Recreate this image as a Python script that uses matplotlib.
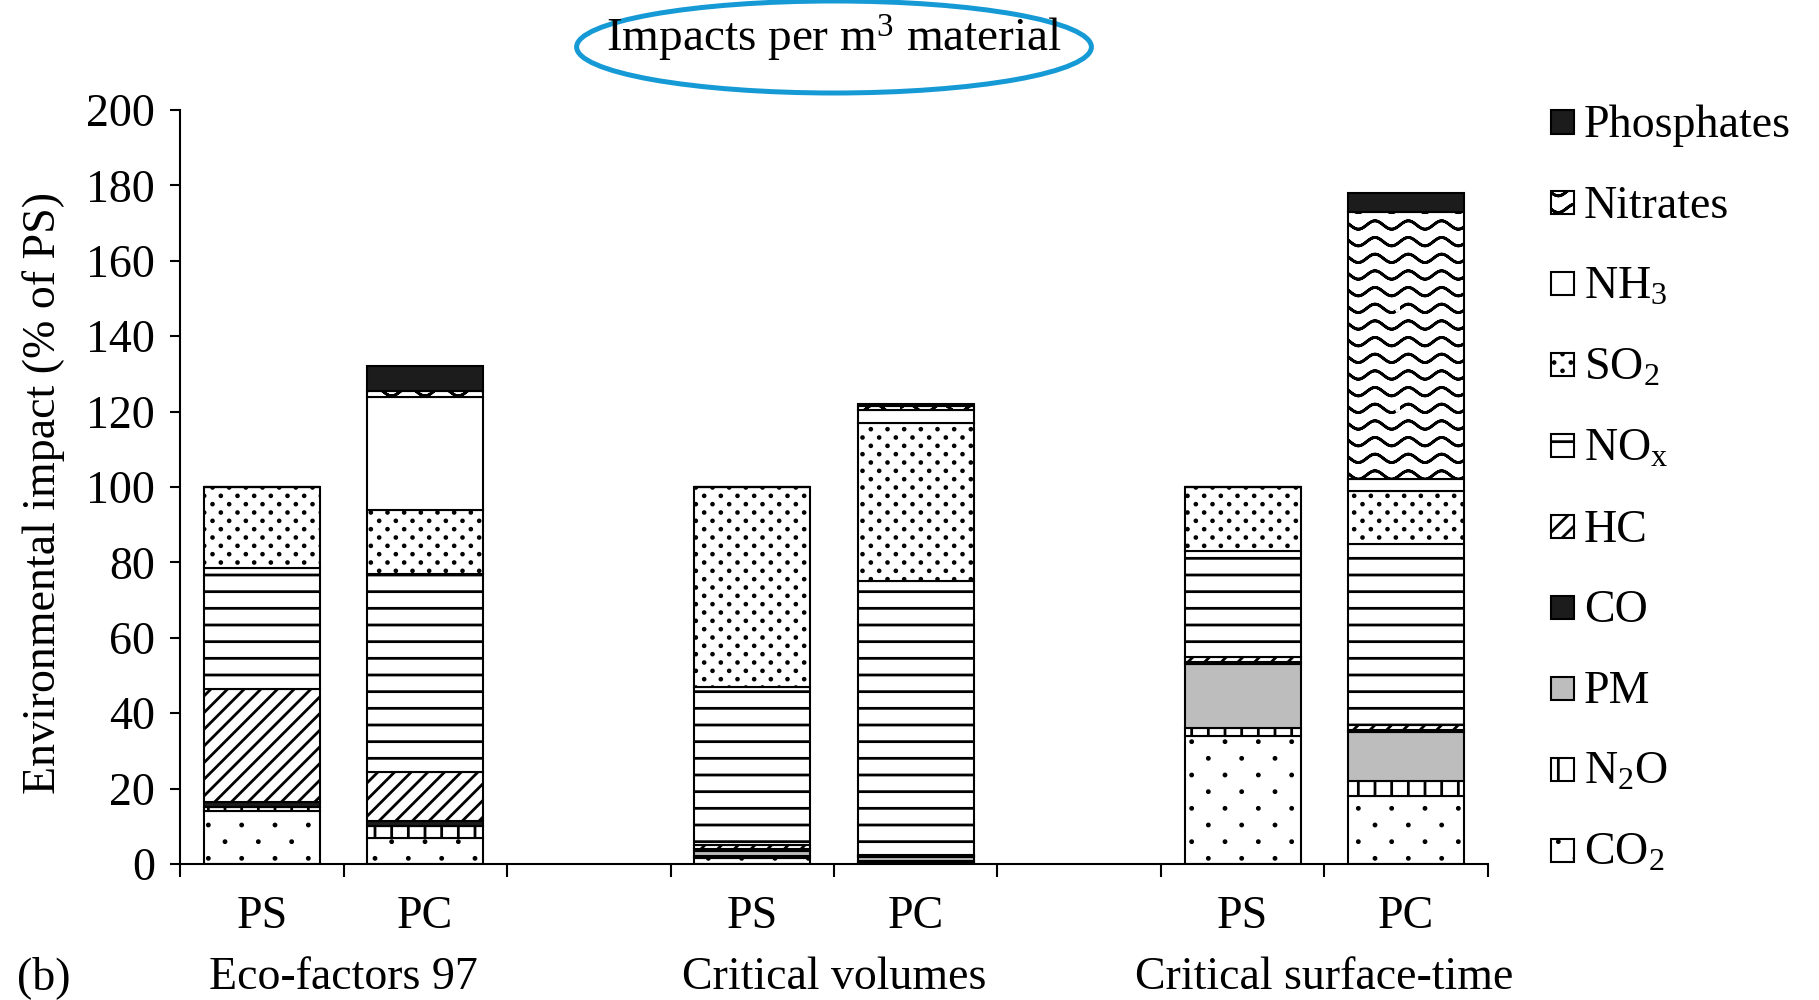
import numpy as np
import matplotlib
matplotlib.use("Agg")
import matplotlib.pyplot as plt
from matplotlib import hatch as mhatch
from matplotlib.path import Path
from matplotlib.patches import Ellipse, Rectangle
from matplotlib.transforms import blended_transform_factory

# PS / PC bars for three impact methods, % of PS
methods = ["Eco-factors 97", "Critical volumes", "Critical surface-time"]
materials = ["PS", "PC", "PS", "PC", "PS", "PC"]
bar_pos = [0, 1, 3, 4, 6, 7]

co2 = [14, 7, 1.5, 0.5, 34, 18]
n2o = [1, 3, 0.5, 0.3, 2, 4]
pm = [0, 0, 1.5, 1, 17, 13]
co = [1.5, 1.5, 0.5, 0.3, 0.5, 0.5]
hc = [30, 13, 1, 0.4, 1.5, 1.5]
nox = [32, 52.5, 42, 72.5, 28, 48]
so2 = [21.5, 17, 53, 42, 17, 14]
nh3 = [0, 30, 0, 3.5, 0, 3]
nitrates = [0, 1.5, 0, 1, 0, 71]
phosphates = [0, 6.5, 0, 0.5, 0, 5]

CIRCLE = Path.unit_circle()


class Dots(mhatch.HatchPatternBase):
    # staggered filled dots, ncol per row, nrow rows per hatch tile
    def __init__(self, hatch, density):
        self.centers = []
        if self.char in hatch:
            for r in range(self.nrow):
                shift = 0.5 if r % 2 else 0.0
                for c in range(self.ncol):
                    self.centers.append(((c + 0.25 + shift) / self.ncol,
                                         (r + 0.5) / self.nrow))
        self.num_vertices = len(self.centers) * len(CIRCLE.vertices)

    def set_vertices_and_codes(self, vertices, codes):
        n = len(CIRCLE.vertices)
        for i, (x, y) in enumerate(self.centers):
            vertices[i * n:(i + 1) * n] = CIRCLE.vertices * self.size + (x, y)
            codes[i * n:(i + 1) * n] = CIRCLE.codes


class SparseDots(Dots):
    char, ncol, nrow, size = "o", 3, 6, 0.01


class FineDots(Dots):
    char, ncol, nrow, size = "*", 6, 12, 0.009


class Waves(mhatch.HatchPatternBase):
    # wavy lines; each wave is traced forth and back so the fill pass adds nothing
    steps = 60

    def __init__(self, hatch, density):
        self.rows = 6 if "O" in hatch else 0
        self.num_vertices = self.rows * (2 * self.steps + 1)

    def set_vertices_and_codes(self, vertices, codes):
        x = np.linspace(0, 1, self.steps + 1)
        n = 2 * self.steps + 1
        for r in range(self.rows):
            y = (r + 0.5) / self.rows + 0.042 * np.sin(2 * np.pi * 3 * x)
            pts = np.column_stack([x, y])
            vertices[r * n:(r + 1) * n] = np.vstack([pts, pts[-2::-1]])
            codes[r * n] = Path.MOVETO
            codes[r * n + 1:(r + 1) * n] = Path.LINETO


mhatch._hatch_types = [h for h in mhatch._hatch_types
                       if h not in (mhatch.SmallCircles, mhatch.LargeCircles, mhatch.Stars)]
mhatch._hatch_types += [SparseDots, FineDots, Waves]

plt.rcParams.update({
    "font.family": "Liberation Serif",
    "mathtext.fontset": "custom",
    "mathtext.rm": "Liberation Serif",
    "mathtext.it": "Liberation Serif:italic",
    "hatch.linewidth": 2.0,
    "font.size": 33,
})

# bottom to top
stack = [
    ("CO$_2$", co2, "white", "o"),
    ("N$_2$O", n2o, "white", "|"),
    ("PM", pm, "#bdbdbd", None),
    ("CO", co, "#1c1c1c", None),
    ("HC", hc, "white", "//"),
    ("NO$_\\mathrm{x}$", nox, "white", "-"),
    ("SO$_2$", so2, "white", "*"),
    ("NH$_3$", nh3, "white", None),
    ("Nitrates", nitrates, "white", "O"),
    ("Phosphates", phosphates, "#1c1c1c", None),
]

fig = plt.figure(figsize=(18.19, 10), dpi=100)
ax = fig.add_axes([0.099, 0.136, 0.719, 0.754])

bottom = np.zeros(len(bar_pos))
for label, vals, face, hatch in stack:
    vals = np.array(vals, dtype=float)
    ax.bar(bar_pos, vals, bottom=bottom, width=0.71, color=face,
           edgecolor="black", hatch=hatch, linewidth=1.5)
    bottom += vals

ax.set_xlim(-0.5, 7.5)
ax.set_ylim(0, 200)
ax.set_yticks(range(0, 201, 20))
for side in ["top", "right"]:
    ax.spines[side].set_visible(False)
for side in ["left", "bottom"]:
    ax.spines[side].set_linewidth(1.5)

ax.tick_params(axis="y", length=7, width=1.5, pad=11)
ax.set_xticks(bar_pos)
ax.set_xticklabels(materials)
ax.set_xticks(np.arange(-0.5, 8, 1), minor=True)
ax.tick_params(axis="x", which="major", length=0, pad=23)
ax.tick_params(axis="x", which="minor", length=9, width=1.5)

trans = blended_transform_factory(ax.transData, ax.transAxes)
for i, name in enumerate(methods):
    ax.text(bar_pos[2 * i] + 0.5, -0.151, name, transform=trans,
            ha="center", va="center")

fig.text(0.024, 0.507, "Environmental impact (% of PS)", rotation=90,
         ha="center", va="center")
fig.text(0.024, 0.022, "(b)", ha="center", va="center")

fig.text(0.4585, 0.962, "Impacts per m$^3$ material", ha="center",
         va="center", fontsize=34)
fig.add_artist(Ellipse((0.4585, 0.953), 0.283, 0.092, transform=fig.transFigure,
                       fill=False, edgecolor="#169ad6", linewidth=3.6))

# legend, top entry first
for i, (label, vals, face, hatch) in enumerate(stack[::-1]):
    yc = 0.878 - i * 0.0809
    fig.add_artist(Rectangle((0.8527, yc - 0.0115), 0.0126, 0.023,
                             transform=fig.transFigure, facecolor=face,
                             edgecolor="black", hatch=hatch, linewidth=1.5))
    fig.text(0.8708, yc - 0.015, label, ha="left", va="baseline")

plt.savefig("out.png")
